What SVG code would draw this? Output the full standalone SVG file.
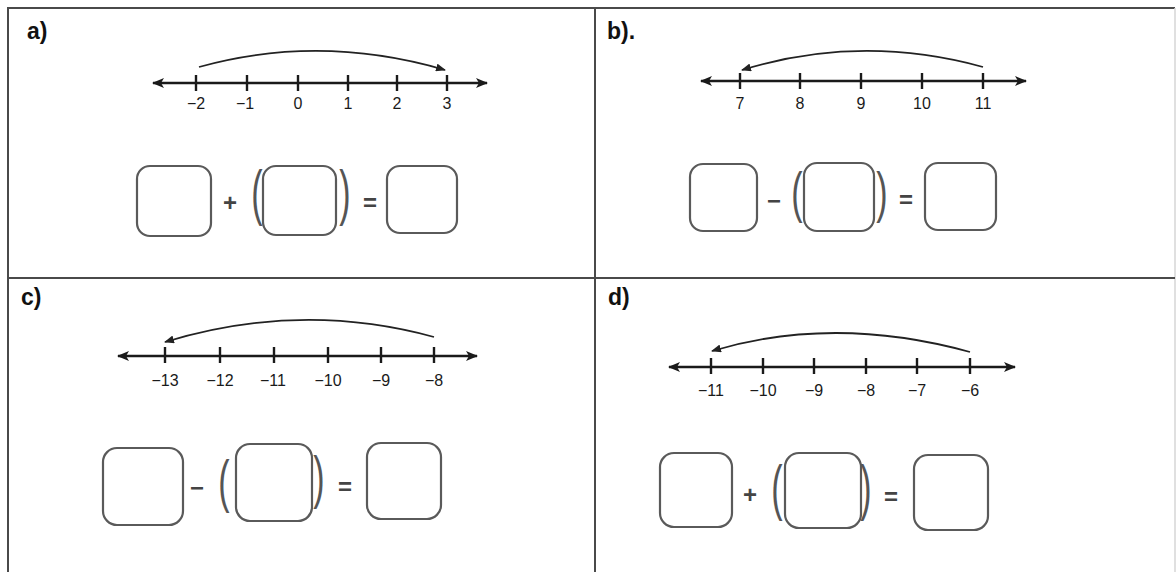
<svg xmlns="http://www.w3.org/2000/svg" width="1176" height="572" viewBox="0 0 1176 572">
<style>
.grid{stroke:#4a4a4a;stroke-width:2;fill:none}
.lbl{font-family:"Liberation Sans",Arial,sans-serif;font-weight:bold;font-size:23px;fill:#111}
.num{font-family:"Liberation Sans",Arial,sans-serif;font-size:16px;fill:#1a1a1a;text-anchor:middle}
.nl{stroke:#1a1a1a;stroke-width:2.4;fill:none}
.tick{stroke:#1a1a1a;stroke-width:2.4}
.arc{stroke:#222;stroke-width:1.8;fill:none}
.box{fill:none;stroke:#5a5a5a;stroke-width:2.2}
.op{font-family:"Liberation Sans",Arial,sans-serif;font-weight:bold;font-size:24px;fill:#444;text-anchor:middle}
.par{font-family:"Liberation Sans",Arial,sans-serif;font-size:34px;fill:#555;text-anchor:middle}
</style>
<defs>
<marker id="big" viewBox="0 0 12 10" refX="11" refY="5" markerWidth="12" markerHeight="10" markerUnits="userSpaceOnUse" orient="auto-start-reverse">
<path d="M0,0 L12,5 L0,10 L3,5 Z" fill="#1a1a1a"/>
</marker>
<marker id="small" viewBox="0 0 10 8" refX="9" refY="4" markerWidth="10" markerHeight="8" markerUnits="userSpaceOnUse" orient="auto">
<path d="M0,0 L10,4 L0,8 Z" fill="#222"/>
</marker>
</defs>
<rect width="1176" height="572" fill="#fff"/>

<g id="table">
<path class="grid" d="M8,572 V8 H1175"/>
<line x1="1175" y1="8" x2="1175" y2="572" stroke="#d6d6d6" stroke-width="1.5"/>
<line class="grid" x1="595" y1="8" x2="595" y2="572"/>
<line class="grid" x1="8" y1="278" x2="1175" y2="278"/>
</g>

<g id="panel-a">
<text class="lbl" x="27" y="39">a)</text>
<line class="nl" x1="153" y1="83" x2="487" y2="83" marker-start="url(#big)" marker-end="url(#big)"/>
<g class="tick"><line x1="196" y1="75" x2="196" y2="91"/><line x1="247" y1="75" x2="247" y2="91"/><line x1="298" y1="75" x2="298" y2="91"/><line x1="348" y1="75" x2="348" y2="91"/><line x1="397" y1="75" x2="397" y2="91"/><line x1="447" y1="75" x2="447" y2="91"/></g>
<text class="num" x="196" y="109">−2</text><text class="num" x="245" y="109">−1</text><text class="num" x="298" y="109">0</text><text class="num" x="348" y="109">1</text><text class="num" x="397" y="109">2</text><text class="num" x="447" y="109">3</text>
<rect class="box" x="137" y="166" width="74" height="70" rx="13"/>
<text class="op" x="230" y="211">+</text>
<text class="par" transform="translate(257,213) scale(1,1.8)">(</text>
<rect class="box" x="263" y="166" width="73" height="69" rx="13"/>
<text class="par" transform="translate(345,213) scale(1,1.8)">)</text>
<text class="op" x="370" y="211">=</text>
<rect class="box" x="387" y="166" width="70" height="67" rx="13"/>
</g>

<g id="panel-b">
<text class="lbl" x="607" y="39">b).</text>
<line class="nl" x1="701" y1="81" x2="1026" y2="81" marker-start="url(#big)" marker-end="url(#big)"/>
<g class="tick"><line x1="740" y1="73" x2="740" y2="89"/><line x1="800" y1="73" x2="800" y2="89"/><line x1="861" y1="73" x2="861" y2="89"/><line x1="922" y1="73" x2="922" y2="89"/><line x1="983" y1="73" x2="983" y2="89"/></g>
<text class="num" x="740" y="109">7</text><text class="num" x="800" y="109">8</text><text class="num" x="861" y="109">9</text><text class="num" x="922" y="109">10</text><text class="num" x="983" y="109">11</text>
<rect class="box" x="690" y="164" width="67" height="67" rx="13"/>
<text class="op" x="774" y="209">−</text>
<text class="par" transform="translate(797,211) scale(1,1.65)">(</text>
<rect class="box" x="804" y="163" width="70" height="68" rx="13"/>
<text class="par" transform="translate(882,211) scale(1,1.65)">)</text>
<text class="op" x="906" y="208">=</text>
<rect class="box" x="925" y="163" width="71" height="67" rx="13"/>
</g>

<g id="panel-c">
<text class="lbl" x="21" y="305">c)</text>
<line class="nl" x1="118" y1="356" x2="477" y2="356" stroke-width="3" marker-start="url(#big)" marker-end="url(#big)"/>
<g class="tick"><line x1="165" y1="347" x2="165" y2="363"/><line x1="220" y1="347" x2="220" y2="363"/><line x1="274" y1="347" x2="274" y2="363"/><line x1="328" y1="347" x2="328" y2="363"/><line x1="381" y1="347" x2="381" y2="363"/><line x1="434" y1="347" x2="434" y2="363"/></g>
<text class="num" x="165" y="386">−13</text><text class="num" x="220" y="386">−12</text><text class="num" x="273" y="386">−11</text><text class="num" x="328" y="386">−10</text><text class="num" x="381" y="386">−9</text><text class="num" x="434" y="386">−8</text>
<rect class="box" x="103" y="448" width="80" height="77" rx="14"/>
<text class="op" x="197" y="496">−</text>
<text class="par" transform="translate(224,501) scale(1,1.7)">(</text>
<rect class="box" x="236" y="444" width="76" height="77" rx="14"/>
<text class="par" transform="translate(319,497) scale(1,1.7)">)</text>
<text class="op" x="345" y="495">=</text>
<rect class="box" x="367" y="443" width="74" height="76" rx="14"/>
</g>

<g id="panel-d">
<text class="lbl" x="608" y="305">d)</text>
<line class="nl" x1="669" y1="367" x2="1015" y2="367" marker-start="url(#big)" marker-end="url(#big)"/>
<g class="tick"><line x1="711" y1="358" x2="711" y2="374"/><line x1="763" y1="358" x2="763" y2="374"/><line x1="814" y1="358" x2="814" y2="374"/><line x1="866" y1="358" x2="866" y2="374"/><line x1="917" y1="358" x2="917" y2="374"/><line x1="970" y1="358" x2="970" y2="374"/></g>
<text class="num" x="711" y="396">−11</text><text class="num" x="763" y="396">−10</text><text class="num" x="814" y="396">−9</text><text class="num" x="866" y="396">−8</text><text class="num" x="917" y="396">−7</text><text class="num" x="970" y="396">−6</text>
<rect class="box" x="660" y="453" width="72" height="74" rx="14"/>
<text class="op" x="750" y="503">+</text>
<text class="par" transform="translate(777,508) scale(1,1.8)">(</text>
<rect class="box" x="785" y="453" width="76" height="75" rx="14"/>
<text class="par" transform="translate(866,508) scale(1,1.8)">)</text>
<text class="op" x="891" y="505">=</text>
<rect class="box" x="914" y="455" width="74" height="75" rx="14"/>
</g>

<g id="connectors">
<path class="arc" d="M199,67 Q320,33.5 445,70" marker-end="url(#small)"/>
<path class="arc" d="M983,67 Q861,33.5 742,70" marker-end="url(#small)"/>
<path class="arc" d="M434,337 Q301,300.5 165,342" marker-end="url(#small)"/>
<path class="arc" d="M970,352 Q834,314.5 712,351" marker-end="url(#small)"/>
</g>
</svg>
